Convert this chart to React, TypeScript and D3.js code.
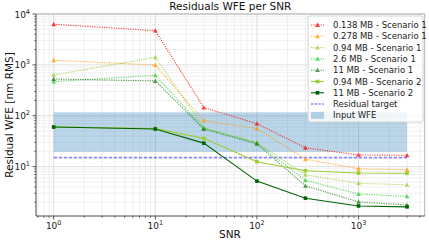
import React from 'react';
import * as d3 from 'd3';

const W = 429;
const H = 245;
const M = { top: 14, right: 4.3, bottom: 29, left: 36 };

const snr = [1, 10, 30, 100, 300, 1000, 3000];
const mb0138S1 = [6300, 4700, 145, 70, 23.5, 17, 16.7];
const mb0278S1 = [1230, 995, 80, 56, 14, 9.1, 8.7];
const mb094S1 = [634, 1410, 58, 30, 6.9, 4.7, 4.4];
const mb26S1 = [468, 624, 57, 29, 5.4, 2.9, 2.6];
const mb11S1 = [528, 483, 55, 28, 4.2, 2.03, 1.76];
const mb094S2 = [60, 56, 36, 12.5, 8.3, 7.5, 7.4];
const mb11S2 = [60, 55, 29, 5.2, 2.4, 1.69, 1.62];

const inputWfe = [19.5, 117];
const residualTarget = 15;

const series = [
  { label: '0.138 MB - Scenario 1', values: mb0138S1, color: '#ff0000', dotted: true, marker: 'tri' },
  { label: '0.278 MB - Scenario 1', values: mb0278S1, color: '#ff9900', dotted: true, marker: 'tri' },
  { label: '0.94 MB - Scenario 1', values: mb094S1, color: '#9acd32', dotted: true, marker: 'tri' },
  { label: '2.6 MB - Scenario 1', values: mb26S1, color: '#32cd32', dotted: true, marker: 'tri' },
  { label: '11 MB - Scenario 1', values: mb11S1, color: '#1e7b1e', dotted: true, marker: 'tri' },
  { label: '0.94 MB - Scenario 2', values: mb094S2, color: '#9acd32', dotted: false, marker: 'sq' },
  { label: '11 MB - Scenario 2', values: mb11S2, color: '#006400', dotted: false, marker: 'sq' },
];

const font = 'DejaVu Sans, sans-serif';

function Marker({ x, y, kind, color }: { x: number; y: number; kind: string; color: string }) {
  if (kind === 'tri') {
    const s = 2.4;
    return <path d={`M${x},${y - s}L${x + s},${y + s * 0.8}L${x - s},${y + s * 0.8}Z`} fill={color} />;
  }
  return <rect x={x - 1.8} y={y - 1.8} width={3.6} height={3.6} fill={color} />;
}

function Pow({ x, y, exp, anchor }: { x: number; y: number; exp: number; anchor: string }) {
  return (
    <text x={x} y={y} textAnchor={anchor} fontSize={9} fontFamily={font} fill="#222">
      10<tspan fontSize={6.5} dy={-4}>{exp}</tspan>
    </text>
  );
}

export default function App() {
  const iw = W - M.left - M.right;
  const ih = H - M.top - M.bottom;
  const x = d3.scaleLog().domain([Math.pow(10, -0.174), Math.pow(10, 3.651)]).range([0, iw]);
  const y = d3.scaleLog().domain([Math.pow(10, 0.03), 1e4]).range([ih, 0]);

  const xMinor: number[] = [];
  const yMinor: number[] = [];
  for (let e = -1; e <= 3; e++) for (let k = 2; k <= 9; k++) {
    const v = k * Math.pow(10, e);
    if (v >= x.domain()[0] && v <= x.domain()[1]) xMinor.push(v);
  }
  for (let e = 0; e <= 3; e++) for (let k = 2; k <= 9; k++) {
    const v = k * Math.pow(10, e);
    if (v >= y.domain()[0] && v <= y.domain()[1]) yMinor.push(v);
  }
  const xMajor = [1, 10, 100, 1000];
  const yMajor = [10, 100, 1000, 10000];

  const line = d3.line<number>().x((_, i) => x(snr[i])).y((d) => y(d));

  const lx = 308;
  const ly = 16;
  const rowH = 11.3;

  return (
    <svg width={W} height={H} style={{ position: 'fixed', left: 0, top: 0 }}>
      <rect width={W} height={H} fill="#fff" />
      <text x={M.left + iw / 2} y={10} textAnchor="middle" fontSize={10.5} fontFamily={font} fill="#111">
        Residuals WFE per SNR
      </text>
      <g transform={`translate(${M.left},${M.top})`}>
        {xMinor.map((v) => <line key={'xm' + v} x1={x(v)} x2={x(v)} y1={0} y2={ih} stroke="#ececec" strokeWidth={0.8} />)}
        {yMinor.map((v) => <line key={'ym' + v} x1={0} x2={iw} y1={y(v)} y2={y(v)} stroke="#ececec" strokeWidth={0.8} />)}
        {xMajor.map((v) => <line key={'xM' + v} x1={x(v)} x2={x(v)} y1={0} y2={ih} stroke="#d6d6d6" strokeWidth={0.8} />)}
        {yMajor.map((v) => <line key={'yM' + v} x1={0} x2={iw} y1={y(v)} y2={y(v)} stroke="#d6d6d6" strokeWidth={0.8} />)}

        <rect x={x(snr[0])} width={x(snr[snr.length - 1]) - x(snr[0])} y={y(inputWfe[1])} height={y(inputWfe[0]) - y(inputWfe[1])} fill="#1f77b4" fillOpacity={0.3} />
        <line x1={x(snr[0])} x2={x(snr[snr.length - 1])} y1={y(residualTarget)} y2={y(residualTarget)} stroke="#0000ff" strokeOpacity={0.45} strokeWidth={1.8} strokeDasharray="3.5 1.5" />

        {series.map((s) => (
          <g key={s.label} opacity={s.dotted ? 0.75 : 1}>
            <path d={line(s.values) || ''} fill="none" stroke={s.color} strokeWidth={1.1} strokeDasharray={s.dotted ? '1.2 1.2' : undefined} />
            {s.values.map((v, i) => <Marker key={i} x={x(snr[i])} y={y(v)} kind={s.marker} color={s.color} />)}
          </g>
        ))}

        <line x1={0} x2={iw} y1={0} y2={0} stroke="#aaa" strokeWidth={0.9} />
        <line x1={iw} x2={iw} y1={0} y2={ih} stroke="#aaa" strokeWidth={0.9} />
        <line x1={0} x2={0} y1={0} y2={ih} stroke="#333" strokeWidth={0.9} />
        <line x1={0} x2={iw} y1={ih} y2={ih} stroke="#333" strokeWidth={0.9} />

        {xMajor.map((v) => <line key={'xt' + v} x1={x(v)} x2={x(v)} y1={ih} y2={ih + 3.5} stroke="#333" strokeWidth={0.8} />)}
        {xMinor.map((v) => <line key={'xmt' + v} x1={x(v)} x2={x(v)} y1={ih} y2={ih + 2} stroke="#333" strokeWidth={0.6} />)}
        {yMajor.map((v) => <line key={'yt' + v} x1={-3.5} x2={0} y1={y(v)} y2={y(v)} stroke="#333" strokeWidth={0.8} />)}
        {yMinor.map((v) => <line key={'ymt' + v} x1={-2} x2={0} y1={y(v)} y2={y(v)} stroke="#333" strokeWidth={0.6} />)}

        {[0, 1, 2, 3].map((e) => <Pow key={'xl' + e} x={x(Math.pow(10, e))} y={ih + 12.5} exp={e} anchor="middle" />)}
        {[1, 2, 3, 4].map((e) => <Pow key={'yl' + e} x={-6} y={y(Math.pow(10, e)) + 3.5} exp={e} anchor="end" />)}
      </g>

      <text x={230} y={238} textAnchor="middle" fontSize={10.5} fontFamily={font} fill="#111">SNR</text>
      <text transform={`translate(13,${M.top + ih / 2}) rotate(-90)`} textAnchor="middle" fontSize={10.5} fontFamily={font} fill="#111">
        Residual WFE [nm RMS]
      </text>

      <g>
        <rect x={lx} y={ly} width={115} height={106} rx={2} fill="#fff" fillOpacity={0.8} stroke="#ccc" strokeWidth={0.8} />
        {series.map((s, i) => {
          const cy = ly + 9 + i * rowH;
          return (
            <g key={'lg' + s.label}>
              <g opacity={s.dotted ? 0.75 : 1}>
                <line x1={lx + 3} x2={lx + 16} y1={cy} y2={cy} stroke={s.color} strokeWidth={1.1} strokeDasharray={s.dotted ? '1.2 1.2' : undefined} />
                <Marker x={lx + 9.5} y={cy} kind={s.marker} color={s.color} />
              </g>
              <text x={lx + 25} y={cy + 3} fontSize={8.5} fontFamily={font} fill="#222">{s.label}</text>
            </g>
          );
        })}
        <line x1={lx + 3} x2={lx + 16} y1={ly + 9 + 7 * rowH} y2={ly + 9 + 7 * rowH} stroke="#0000ff" strokeOpacity={0.45} strokeWidth={1.5} strokeDasharray="2.5 1.2" />
        <text x={lx + 25} y={ly + 12 + 7 * rowH} fontSize={8.5} fontFamily={font} fill="#222">Residual target</text>
        <rect x={lx + 3} y={ly + 5.5 + 8 * rowH} width={13} height={7} fill="#1f77b4" fillOpacity={0.3} />
        <text x={lx + 25} y={ly + 12 + 8 * rowH} fontSize={8.5} fontFamily={font} fill="#222">Input WFE</text>
      </g>
    </svg>
  );
}
